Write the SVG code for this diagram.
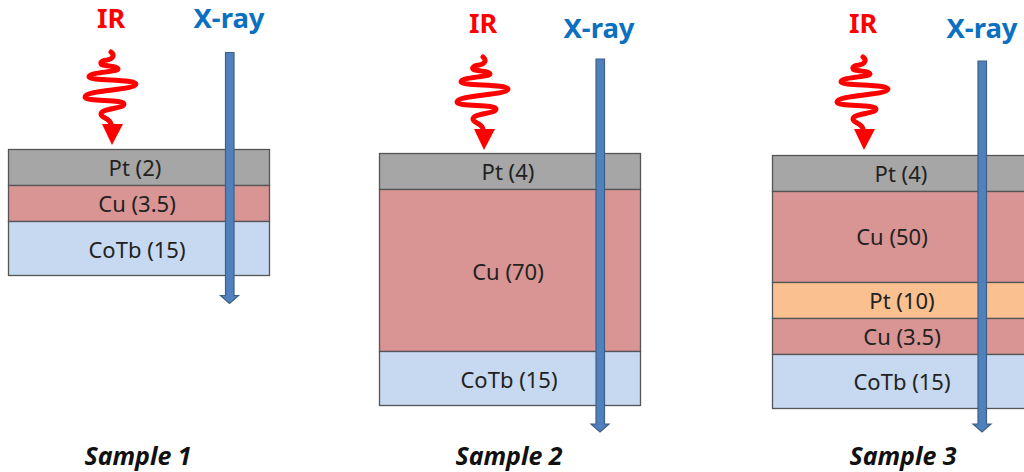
<svg xmlns="http://www.w3.org/2000/svg" xmlns:xlink="http://www.w3.org/1999/xlink" width="1024" height="472" viewBox="0 0 1024 472">
<style>
text{font-family:"Noto Sans","Open Sans",sans-serif;text-anchor:middle}
.lb{font-size:22px;fill:#222}
.ir{font-size:27px;font-weight:700;fill:#f00}
.xr{font-size:27.500px;font-weight:700;fill:#0b70c0}
.s{font-size:25px;font-weight:700;font-style:italic;fill:#111}
.l{stroke:#555;stroke-width:1.3}
.g{fill:#a6a6a6}.r{fill:#d99594}.b{fill:#c6d9f0}.o{fill:#fac090}
.ray{fill:#4f81bd;stroke:#3f5f85;stroke-width:1.200}
.w{fill:none;stroke:#f00;stroke-width:5;stroke-linecap:round;stroke-linejoin:round}
</style>
<defs>
<g id="wave"><path class="w" d="M111 52C115 55 113 59 107 60C100 61 99 64 103 65C110 66 118 67 118 69C118 72 89 72 89 77C89 81 136 79 136 84C136 90 85 90 85 97C85 102 124 99 124 104C124 109 101 108 101 114C101 118 110 118 111 124"/><polygon fill="#f00" points="102,124 123,124 112,145"/></g>
</defs>
<g id="sample1">
<rect class="g l" x="8.500" y="149.500" width="261" height="36"/><rect class="r l" x="8.500" y="185.500" width="261" height="36"/><rect class="b l" x="8.500" y="221.500" width="261" height="54"/>
<text class="lb" x="135" y="176">Pt (2)</text><text class="lb" x="137" y="212">Cu (3.5)</text><text class="lb" x="137" y="258">CoTb (15)</text>
<text class="s" x="138" y="465">Sample 1</text>
</g>
<g id="sample2">
<rect class="g l" x="379.500" y="153.500" width="261" height="36"/><rect class="r l" x="379.500" y="189.500" width="261" height="162"/><rect class="b l" x="379.500" y="351.500" width="261" height="54"/>
<text class="lb" x="508" y="180">Pt (4)</text><text class="lb" x="508" y="280">Cu (70)</text><text class="lb" x="509" y="388">CoTb (15)</text>
<text class="s" x="509" y="465">Sample 2</text>
</g>
<g id="sample3">
<rect class="g l" x="772.500" y="155.500" width="262" height="36"/><rect class="r l" x="772.500" y="191.500" width="262" height="91"/><rect class="o l" x="772.500" y="282.500" width="262" height="36"/><rect class="r l" x="772.500" y="318.500" width="262" height="36"/><rect class="b l" x="772.500" y="354.500" width="262" height="54"/>
<text class="lb" x="901" y="182">Pt (4)</text><text class="lb" x="892" y="245">Cu (50)</text><text class="lb" x="902" y="309">Pt (10)</text><text class="lb" x="902" y="345">Cu (3.5)</text><text class="lb" x="902" y="390">CoTb (15)</text>
<text class="s" x="903" y="465">Sample 3</text>
</g>
<g id="ir1"><text class="ir" x="111" y="28">IR</text><use href="#wave"/></g>
<g id="ir2"><text class="ir" x="483" y="33">IR</text><use href="#wave" x="372" y="5"/></g>
<g id="ir3"><text class="ir" x="863" y="33">IR</text><use href="#wave" x="752" y="5"/></g>
<g id="xray1"><text class="xr" x="229" y="28">X-ray</text></g>
<g id="xray2"><text class="xr" x="599" y="38">X-ray</text></g>
<g id="xray3"><text class="xr" x="982" y="38">X-ray</text></g>
<g id="connectors">
<path class="ray" d="M225.500 52.500H234V295.500H238.500L229.500 303.500L220.500 295.500H225.500Z"/>
<path class="ray" d="M596 59H604.500V424H609L600 432L591 424H596Z"/>
<path class="ray" d="M978 61H986.500V424H991L982 432L973 424H978Z"/>
</g>
</svg>
